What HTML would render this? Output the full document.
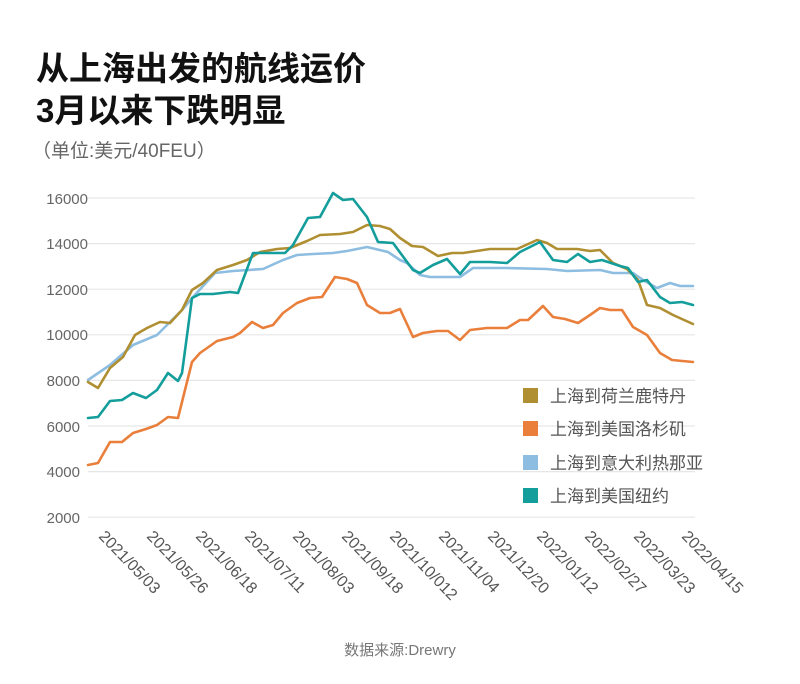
<!DOCTYPE html>
<html><head><meta charset="utf-8"><style>
body{margin:0;background:#fff;}
svg text{font-family:"Liberation Sans","Noto Sans CJK SC",sans-serif;}
</style></head><body>
<svg width="800" height="679" xmlns="http://www.w3.org/2000/svg">
<text x="36" y="80" font-size="33" font-weight="bold" fill="#111">从上海出发的航线运价</text>
<text x="36" y="122" font-size="33" font-weight="bold" fill="#111">3月以来下跌明显</text>
<text x="32" y="157" font-size="19" fill="#666">（单位:美元/40FEU）</text>
<g stroke="#e6e6e6" stroke-width="1.2">
<line x1="88" x2="695" y1="198" y2="198"/><line x1="88" x2="695" y1="243.6" y2="243.6"/>
<line x1="88" x2="695" y1="289.2" y2="289.2"/><line x1="88" x2="695" y1="334.8" y2="334.8"/>
<line x1="88" x2="695" y1="380.4" y2="380.4"/><line x1="88" x2="695" y1="426" y2="426"/>
<line x1="88" x2="695" y1="471.6" y2="471.6"/><line x1="88" x2="695" y1="517.2" y2="517.2"/>
</g>
<g font-size="15" fill="#666" text-anchor="end">
<text x="88" y="204">16000</text><text x="88" y="249">14000</text><text x="88" y="295">12000</text>
<text x="88" y="340">10000</text><text x="80" y="386">8000</text><text x="80" y="432">6000</text>
<text x="80" y="477">4000</text><text x="80" y="523">2000</text>
</g>
<g fill="none" stroke-width="2.6" stroke-linejoin="round" stroke-linecap="round">
<polyline stroke="#8dbde0" points="88,380 110,365 133,345 157,335 182,310 193,297 215,273 233,271 263,269 283,260 297,255 313,254 333,253 347,251 367,247 388,252 400,260 407,263 420,275 430,277 460,277 473,268 507,268 547,269 567,271 600,270 613,273 633,273 643,280 657,288 670,283 680,286 693,286"/>
<polyline stroke="#b08f32" points="88,382 98,388 110,368 123,357 135,335 147,328 160,322 170,323 182,310 192,290 203,283 217,270 233,265 247,260 260,252 277,249 290,248 307,241 320,235 340,234 353,232 367,225 380,226 390,229 400,238 412,246 423,247 438,256 452,253 463,253 490,249 517,249 537,240 547,243 557,249 577,249 590,251 600,250 613,263 627,269 638,280 647,305 660,308 673,315 693,324"/>
<polyline stroke="#e97f3b" points="88,465 98,463 110,442 122,442 133,433 146,429 157,425 168,417 178,418 192,362 200,353 217,341 233,337 240,333 252,322 263,328 273,325 283,313 297,303 310,298 322,297 335,277 347,279 357,283 367,305 380,313 390,313 400,309 413,337 423,333 437,331 448,331 460,340 470,330 487,328 507,328 520,320 528,320 543,306 553,317 565,319 578,323 590,315 600,308 610,310 622,310 633,327 647,335 660,353 672,360 693,362"/>
<polyline stroke="#139d9b" points="88,418 98,417 110,401 122,400 133,393 146,398 157,390 168,373 178,381 182,373 192,298 200,294 213,294 230,292 238,293 253,253 267,253 285,253 293,245 308,218 320,217 333,193 343,200 353,199 367,217 378,242 393,243 413,270 420,273 433,265 447,259 460,274 470,262 490,262 507,263 520,252 540,242 553,260 567,262 578,254 590,262 602,260 620,266 628,268 638,282 647,280 660,297 670,303 682,302 693,305"/>
</g>
<rect x="523" y="388" width="15" height="15" fill="#b08f32"/>
<rect x="523" y="421" width="15" height="15" fill="#e97f3b"/>
<rect x="523" y="455" width="15" height="15" fill="#8dbde0"/>
<rect x="523" y="488" width="15" height="15" fill="#139d9b"/>
<g font-size="17" fill="#555">
<text x="550" y="402">上海到荷兰鹿特丹</text><text x="550" y="435">上海到美国洛杉矶</text>
<text x="550" y="469">上海到意大利热那亚</text><text x="550" y="502">上海到美国纽约</text>
</g>
<g font-size="16" fill="#555">
<text transform="translate(98,537) rotate(46)">2021/05/03</text>
<text transform="translate(146,537) rotate(46)">2021/05/26</text>
<text transform="translate(195,537) rotate(46)">2021/06/18</text>
<text transform="translate(244,537) rotate(46)">2021/07/11</text>
<text transform="translate(292,537) rotate(46)">2021/08/03</text>
<text transform="translate(341,537) rotate(46)">2021/09/18</text>
<text transform="translate(389,537) rotate(46)">2021/10/012</text>
<text transform="translate(438,537) rotate(46)">2021/11/04</text>
<text transform="translate(487,537) rotate(46)">2021/12/20</text>
<text transform="translate(536,537) rotate(46)">2022/01/12</text>
<text transform="translate(584,537) rotate(46)">2022/02/27</text>
<text transform="translate(633,537) rotate(46)">2022/03/23</text>
<text transform="translate(681,537) rotate(46)">2022/04/15</text>
</g>
<text x="400" y="655" font-size="15" fill="#777" text-anchor="middle">数据来源:Drewry</text>
</svg>
</body></html>
